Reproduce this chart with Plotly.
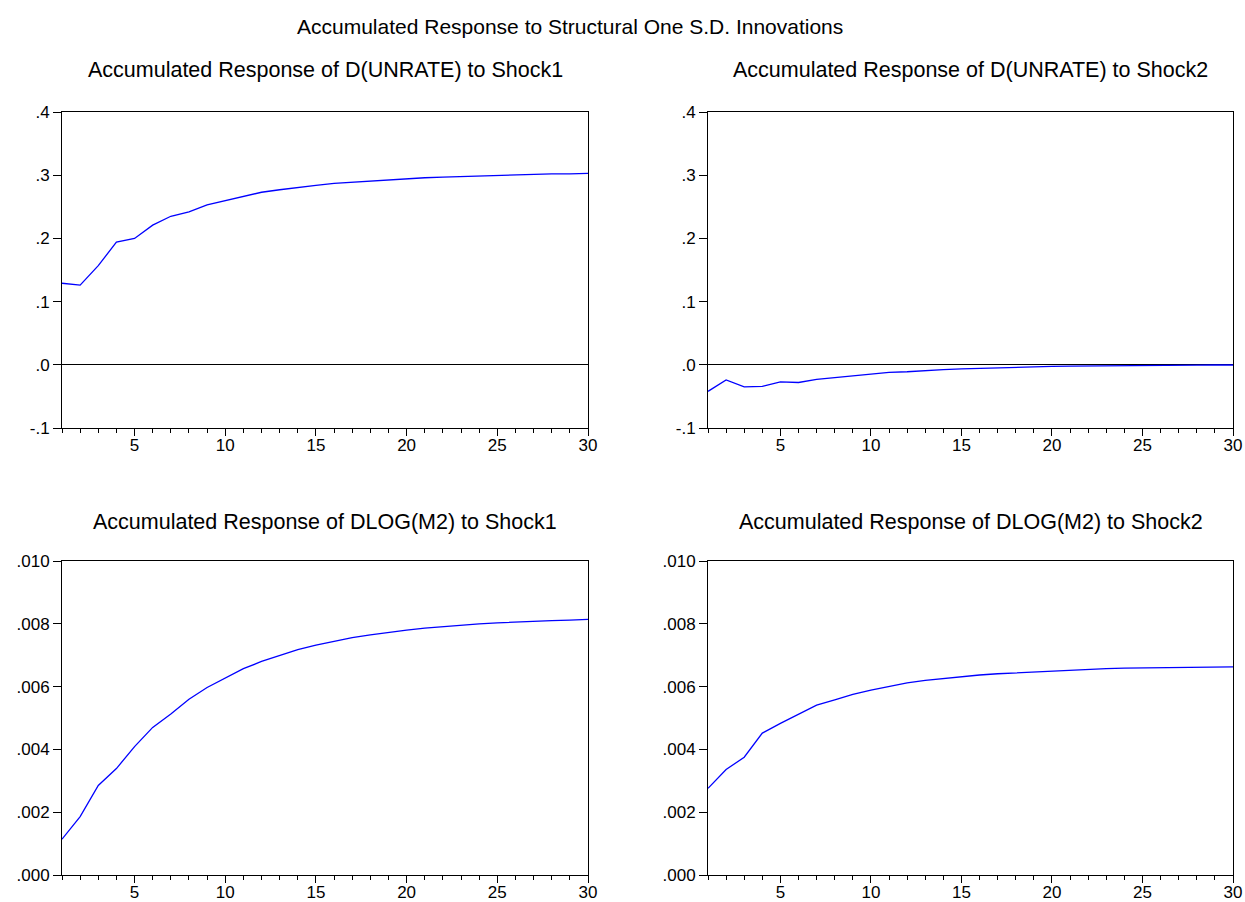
import plotly.graph_objects as go

periods = list(range(1, 31))

unrate_shock1 = [0.129, 0.126, 0.157, 0.194, 0.200, 0.221, 0.235, 0.242, 0.253, 0.260,
                 0.266, 0.273, 0.277, 0.281, 0.284, 0.287, 0.289, 0.291, 0.293, 0.295,
                 0.296, 0.297, 0.298, 0.299, 0.300, 0.301, 0.301, 0.302, 0.302, 0.303]
unrate_shock2 = [-0.042, -0.024, -0.035, -0.034, -0.027, -0.028, -0.023, -0.020, -0.018, -0.014,
                 -0.012, -0.011, -0.009, -0.0075, -0.0065, -0.0055, -0.0045, -0.0037, -0.003, -0.0025,
                 -0.002, -0.0016, -0.0013, -0.001, -0.0008, -0.0006, -0.0005, -0.0004, -0.0003, -0.0003]
m2_shock1 = [0.00114, 0.00186, 0.00285, 0.00339, 0.00409, 0.00470, 0.00513, 0.00560, 0.00597, 0.00628,
             0.00657, 0.00680, 0.00700, 0.00718, 0.00732, 0.00745, 0.00756, 0.00765, 0.00773, 0.00780,
             0.00786, 0.00791, 0.00796, 0.00800, 0.00803, 0.00806, 0.00808, 0.00810, 0.00812, 0.00814]
m2_shock2 = [0.00276, 0.00336, 0.00375, 0.00452, 0.00483, 0.00513, 0.00541, 0.00558, 0.00575, 0.00589,
             0.00601, 0.00612, 0.00620, 0.00626, 0.00632, 0.00637, 0.00641, 0.00644, 0.00647, 0.00650,
             0.00653, 0.00655, 0.00657, 0.00659, 0.00660, 0.00661, 0.00662, 0.00662, 0.00663, 0.00663]

main_title = "Accumulated Response to Structural One S.D. Innovations"
panel_titles = ["Accumulated Response of D(UNRATE) to Shock1",
                "Accumulated Response of D(UNRATE) to Shock2",
                "Accumulated Response of DLOG(M2) to Shock1",
                "Accumulated Response of DLOG(M2) to Shock2"]

top_yticks = [-0.1, 0.0, 0.1, 0.2, 0.3, 0.4]
top_yticktext = ["-.1", ".0", ".1", ".2", ".3", ".4"]
bot_yticks = [0.0, 0.002, 0.004, 0.006, 0.008, 0.010]
bot_yticktext = [".000", ".002", ".004", ".006", ".008", ".010"]
xticks = [5, 10, 15, 20, 25, 30]

W, H = 1245, 902
FONT = "Liberation Sans"

# pixel layout of the plot areas
xdoms_px = [(62, 588), (708, 1233)]
ydoms_px = [(112, 428), (561, 875)]

def xd(p):
    return [p[0] / W, p[1] / W]

def yd(p):
    return [1 - p[1] / H, 1 - p[0] / H]

fig = go.Figure()
series = [unrate_shock1, unrate_shock2, m2_shock1, m2_shock2]
layout = {}
for i, s in enumerate(series):
    r, c = divmod(i, 2)
    n = i + 1
    xa = "x" if n == 1 else f"x{n}"
    ya = "y" if n == 1 else f"y{n}"
    fig.add_trace(go.Scatter(x=periods, y=s, mode="lines",
                             line=dict(color="#0000FF", width=1.3),
                             xaxis=xa, yaxis=ya, showlegend=False))
    top = r == 0
    layout[f"xaxis{'' if n == 1 else n}"] = dict(
        domain=xd(xdoms_px[c]), anchor=ya, range=[1, 30], automargin=False,
        showline=True, linecolor="black", linewidth=1, mirror=True,
        ticks="outside", ticklen=7, tickcolor="black", tickwidth=1,
        tickvals=xticks, showgrid=False, zeroline=False, ticklabelstandoff=-5,
        minor=dict(dtick=1, tick0=1, ticks="outside", ticklen=4, tickcolor="black", showgrid=False),
        tickfont=dict(family=FONT, size=17, color="black"),
    )
    layout[f"yaxis{'' if n == 1 else n}"] = dict(
        domain=yd(ydoms_px[r]), anchor=xa, automargin=False,
        range=[-0.1, 0.4] if top else [0.0, 0.010],
        tickvals=top_yticks if top else bot_yticks,
        ticktext=top_yticktext if top else bot_yticktext,
        showline=True, linecolor="black", linewidth=1, mirror=True,
        ticks="outside", ticklen=8, tickcolor="black", tickwidth=1,
        showgrid=False,
        zeroline=top, zerolinecolor="black", zerolinewidth=1,
        tickfont=dict(family=FONT, size=17, color="black"),
    )

annotations = [dict(text=main_title, x=570 / W, y=1 - 27 / H, xref="paper", yref="paper",
                    showarrow=False, font=dict(family=FONT, size=21, color="black"),
                    xanchor="center", yanchor="middle")]
title_y = [70, 522]
for i, t in enumerate(panel_titles):
    r, c = divmod(i, 2)
    cx = (xdoms_px[c][0] + xdoms_px[c][1]) / 2 / W
    annotations.append(dict(text=t, x=cx, y=1 - title_y[r] / H, xref="paper", yref="paper",
                            showarrow=False, font=dict(family=FONT, size=21.5, color="black"),
                            xanchor="center", yanchor="middle"))

fig.update_layout(
    width=W, height=H, margin=dict(l=0, r=0, t=0, b=0, autoexpand=False),
    paper_bgcolor="white", plot_bgcolor="white",
    annotations=annotations, **layout,
)

fig.write_html("out.html")
